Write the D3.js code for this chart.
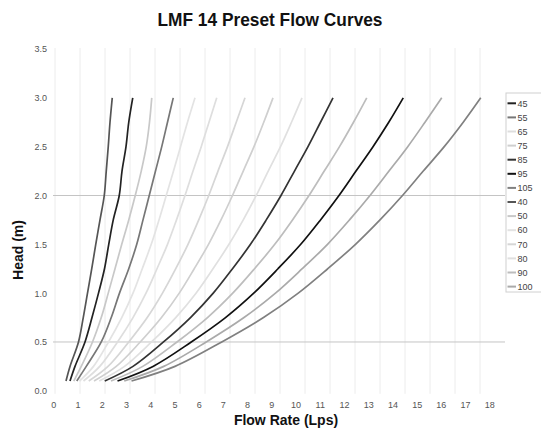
<!DOCTYPE html>
<html>
<head>
<meta charset="utf-8">
<script src="https://cdn.jsdelivr.net/npm/d3@7"></script>
<style>
  body { margin: 0; background: #fff; }
  svg text { font-family: "Liberation Sans", Arial, sans-serif; }
</style>
</head>
<body>
<div id="chart"></div>
<script>
// head values (m) at which each curve was read
const heads = [0.1, 0.25, 0.5, 0.75, 1, 1.25, 1.5, 1.75, 2, 2.25, 2.5, 2.75, 3];

// flow rate (Lps) per preset, one value per head
const flow40 = [0.44, 0.6, 0.94, 1.13, 1.3, 1.47, 1.63, 1.8, 1.97, 2.05, 2.13, 2.2, 2.29];
const flow45 = [0.6, 0.8, 1.2, 1.48, 1.74, 1.98, 2.15, 2.33, 2.57, 2.68, 2.84, 2.95, 3.11];
const flow50 = [0.75, 1.05, 1.5, 1.85, 2.13, 2.4, 2.67, 2.95, 3.21, 3.45, 3.65, 3.78, 3.87];
const flow55 = [0.87, 1.25, 1.85, 2.25, 2.58, 2.95, 3.27, 3.52, 3.77, 4.02, 4.27, 4.5, 4.73];
const flow60 = [0.98, 1.54, 2.14, 2.67, 3.12, 3.49, 3.85, 4.16, 4.45, 4.74, 5.02, 5.3, 5.6];
const flow65 = [1.14, 1.79, 2.5, 3.12, 3.64, 4.08, 4.5, 4.86, 5.2, 5.52, 5.85, 6.16, 6.47];
const flow70 = [1.35, 2.12, 2.95, 3.69, 4.3, 4.83, 5.32, 5.75, 6.15, 6.52, 6.9, 7.25, 7.6];
const flow75 = [1.56, 2.45, 3.41, 4.26, 4.97, 5.57, 6.14, 6.64, 7.1, 7.53, 7.96, 8.35, 8.72];
const flow80 = [1.77, 2.78, 3.86, 4.83, 5.64, 6.32, 6.96, 7.53, 8.05, 8.53, 9.02, 9.46, 9.88];
const flow85 = [1.99, 3.12, 4.34, 5.42, 6.33, 7.1, 7.82, 8.45, 9.04, 9.58, 10.12, 10.62, 11.12];
const flow90 = [2.24, 3.51, 4.88, 6.1, 7.11, 7.98, 8.79, 9.5, 10.16, 10.77, 11.38, 11.94, 12.47];
const flow95 = [2.5, 3.92, 5.45, 6.82, 7.95, 8.92, 9.83, 10.62, 11.36, 12.04, 12.72, 13.35, 13.93];
const flow100 = [2.77, 4.35, 6.05, 7.56, 8.82, 9.89, 10.9, 11.78, 12.6, 13.36, 14.11, 14.8, 15.47];
const flow105 = [3.06, 4.8, 6.67, 8.34, 9.73, 10.91, 12.02, 13.0, 13.9, 14.73, 15.57, 16.33, 17.03];

const presets = ["40", "45", "50", "55", "60", "65", "70", "75", "80", "85", "90", "95", "100", "105"];
const flows = [flow40, flow45, flow50, flow55, flow60, flow65, flow70, flow75, flow80, flow85, flow90, flow95, flow100, flow105];
const legendOrder = ["45", "55", "65", "75", "85", "95", "105", "40", "50", "60", "70", "80", "90", "100"];

const xTicks = d3.range(0, 19);
const yTicks = [0, 0.5, 1, 1.5, 2, 2.5, 3, 3.5];
const refHeads = [0.5, 2];

const colors = {
    "40": "#555", "45": "#222", "50": "#c8c8c8", "55": "#777", "60": "#e3e3e3",
    "65": "#dedede", "70": "#d6d6d6", "75": "#cfcfcf", "80": "#e0e0e0", "85": "#333",
    "90": "#bdbdbd", "95": "#111", "100": "#aaa", "105": "#808080"
};

const W = 541, H = 440;

const svg = d3.select("#chart").append("svg")
    .attr("width", W)
    .attr("height", H);

const x = d3.scaleLinear().domain([0, 18]).range([55, 505]);
// tick labels in the source sit a little left of the grid
const xLabel = d3.scaleLinear().domain([0, 18]).range([53.3, 489.3]);
const y = d3.scaleLinear().domain([0, 3.5]).range([390.8, 49]);

// vertical gridlines
svg.append("g")
    .selectAll("line")
    .data(xTicks.slice(0, 18))
    .enter()
    .append("line")
    .attr("x1", d => x(d)).attr("x2", d => x(d))
    .attr("y1", y(3.5) - 1).attr("y2", y(0) + 3)
    .attr("stroke", "#ececec")
    .attr("stroke-width", 1);

// reference lines at 0.5 and 2.0
svg.append("g")
    .selectAll("line")
    .data(refHeads)
    .enter()
    .append("line")
    .attr("x1", 53).attr("x2", 505)
    .attr("y1", d => y(d)).attr("y2", d => y(d))
    .attr("stroke", "#c4c4c4")
    .attr("stroke-width", 1);

// axes
const yAxis = svg.append("g")
    .attr("transform", `translate(${x(0)},0)`)
    .call(d3.axisLeft(y).tickValues(yTicks).tickFormat(d3.format(".1f")).tickSize(0).tickPadding(8));
yAxis.select(".domain").remove();
yAxis.selectAll("text").style("font-size", "9px").attr("fill", "#555");

const xAxis = svg.append("g")
    .attr("transform", `translate(0,${y(0)})`)
    .call(d3.axisBottom(xLabel).tickValues(xTicks).tickSize(0).tickPadding(10.5));
xAxis.select(".domain").remove();
xAxis.selectAll("text").style("font-size", "9px").attr("fill", "#555");

// curves
const line = d3.line()
    .x(d => x(d[0]))
    .y(d => y(d[1]))
    .curve(d3.curveCatmullRom);

svg.append("g")
    .selectAll("path")
    .data(presets.map((p, i) => ({ preset: p, pts: flows[i].map((f, j) => [f, heads[j]]) })))
    .enter()
    .append("path")
    .attr("d", d => line(d.pts))
    .attr("fill", "none")
    .attr("stroke", d => colors[d.preset])
    .attr("stroke-width", 1.7);

// legend
const legend = svg.append("g");
legend.append("rect")
    .attr("x", 506).attr("y", 93)
    .attr("width", 50).attr("height", 199)
    .attr("fill", "#fff")
    .attr("stroke", "#d0d0d0");

const item = legend.selectAll("g.item")
    .data(legendOrder)
    .enter()
    .append("g")
    .attr("class", "item")
    .attr("transform", (d, i) => `translate(0,${103.3 + i * 14.1})`);
item.append("line")
    .attr("x1", 507.5).attr("x2", 516)
    .attr("stroke", d => colors[d])
    .attr("stroke-width", 2);
item.append("text")
    .attr("x", 517.5)
    .attr("y", 3.2)
    .style("font-size", "9px")
    .attr("fill", "#444")
    .text(d => d);

// titles
svg.append("text")
    .attr("x", 270)
    .attr("y", 26)
    .attr("text-anchor", "middle")
    .attr("textLength", 225)
    .attr("lengthAdjust", "spacingAndGlyphs")
    .style("font-size", "19px")
    .style("font-weight", "bold")
    .attr("fill", "#111")
    .text("LMF 14 Preset Flow Curves");

svg.append("text")
    .attr("x", 286)
    .attr("y", 425)
    .attr("text-anchor", "middle")
    .style("font-size", "14px")
    .style("font-weight", "bold")
    .attr("fill", "#111")
    .text("Flow Rate (Lps)");

svg.append("text")
    .attr("transform", "translate(23,250) rotate(-90)")
    .attr("text-anchor", "middle")
    .style("font-size", "14px")
    .style("font-weight", "bold")
    .attr("fill", "#111")
    .text("Head (m)");
</script>
</body>
</html>
